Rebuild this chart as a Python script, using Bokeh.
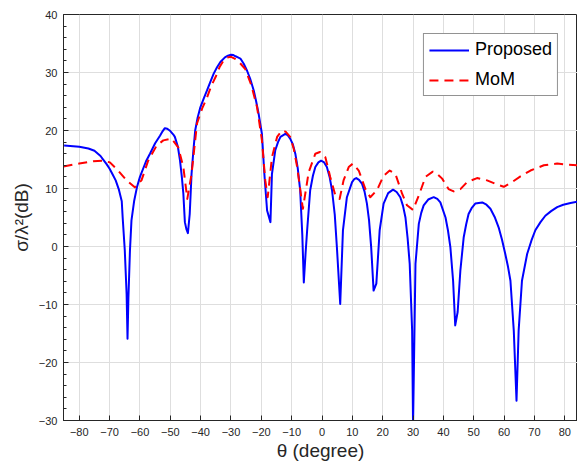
from bokeh.plotting import figure
from bokeh.models import Range1d, FixedTicker, Legend, LegendItem
from bokeh.embed import file_html
from bokeh.resources import INLINE

# Proposed method (theta in degrees, RCS in dB)
theta_proposed = [-85, -82, -80, -77, -75, -73, -72, -71, -70, -69, -68, -67, -66, -65.7, -65,
                  -64.4, -64.1, -63.8, -63.3, -62.8, -61.9, -61, -60, -58, -56.7, -55, -53.4,
                  -52.5, -51.8, -51, -50, -49, -48.5, -47.5, -46.8, -46.2, -45.7, -45.2, -44.7,
                  -44.2, -43.6, -43.0, -42.4, -41.8, -41.0, -40.1, -39.0, -37.9, -36.8, -35.7,
                  -34.6, -33.5, -32, -31, -30, -29.2, -28.5, -27.7, -26.9, -25.8, -24.7, -23.6,
                  -22.5, -21.7, -20.9, -19.8, -19.0, -18.1, -17.0, -16.5, -15.4, -14.5, -13.7,
                  -12.1, -11.3, -10.5, -9.6, -8.8, -8.0, -7.2, -6.5, -6.0, -5.4, -4.9, -3.9, -3.0,
                  -2.2, -1.2, -0.3, 0.7, 1.6, 2.5, 3.3, 4.2,
                  4.9, 6.0, 6.9, 8.2, 9.9, 10.6, 11.3, 12.2, 13.2, 14.0, 14.8, 15.5, 16.2, 17.0,
                  17.9, 19.0, 20.3, 21.8, 23.4, 24.6, 25.8, 26.7, 27.5, 28.2, 28.9, 29.7, 30.0,
                  30.8, 31.9, 32.7, 33.5, 35.0, 36.8, 38.0, 39.0, 40.7, 41.5,
                  42.3, 43.2, 43.9, 44.7, 45.6, 46.7, 47.5, 48.3, 49.3, 50.5, 52.8, 54.2, 55.5,
                  56.9, 58.2, 59.3, 60.4, 61.3, 62.1, 63.2, 64.1, 64.8, 65.9, 67.6, 69.0, 70.3,
                  72.0, 73.6, 75.5, 77.5, 79.5, 81.9, 85]
rcs_proposed = [17.4, 17.3, 17.2, 16.9, 16.5, 15.6, 14.9, 14.2, 13.4, 12.4, 11.4, 9.9, 7.8, 5.0, -0.7,
                -8.2, -15.9, -8.7, -0.7, 4.5, 7.9, 10.2, 12.0, 14.7, 16.0, 17.8, 19.1,
                19.9, 20.4, 20.3, 19.9, 19.3, 18.9, 17.2, 14.8, 12.0, 9.1, 4.2, 3.0,
                2.3, 5.6, 12.5, 16.5, 20.0, 22.2, 24.0, 25.5, 26.9, 28.4, 29.8,
                30.9, 31.8, 32.6, 32.9, 33.05, 33.0, 32.8, 32.6, 32.4, 31.5, 30.3, 28.8,
                26.9, 25.0, 22.9, 19.4, 12.5, 6.2, 4.2, 12.5, 16.6, 18.0, 18.9,
                19.4, 19.2, 18.6, 17.6, 16.0, 13.5, 9.7, 2.0, -6.2, -1.0, 2.8, 9.7, 12.2,
                13.7, 14.5, 14.8, 14.5, 13.7, 12.0, 9.7, 5.5,
                -0.1, -9.9, 2.8, 8.5, 11.1, 11.6, 11.8, 11.5, 10.8, 9.5, 7.4, 4.5, -0.1, -7.6,
                -6.4, 2.8, 7.4, 9.2, 9.8, 9.4, 8.5, 7.0, 5.0, 1.5, -3.0, -14.5, -31.0,
                -3.0, 3.9, 5.8, 7.1, 8.1, 8.5, 8.2, 7.6, 5.0, 2.8,
                -0.1, -5.9, -13.6, -11.3, -4.1, 1.6, 3.8, 5.6, 6.6, 7.4, 7.6, 7.2, 6.5,
                5.1, 3.3, 1.2, -1.3, -3.5, -5.9, -14.5, -26.6, -14.5, -5.9, -1.3, 1.0, 2.8,
                4.2, 5.3, 6.1, 6.8, 7.2, 7.5, 7.8]

# Method of moments reference
theta_mom = [-85.2, -80, -75.4, -72.1, -69.9, -67.2, -64.4, -61.7, -59.5, -57.3, -54.5, -52.3,
             -49.6, -47.4, -45.7, -44.4, -43.0, -41.2, -39.5, -37.9, -36.5, -35, -33.7, -32.4,
             -31.2, -30, -28.8, -27.5, -25.3, -23.3, -21.4, -19.8, -18.7, -17.9, -16.5, -14.8,
             -13.2, -12.0, -10.5, -9.3, -8.2, -6.3, -4.4, -2.2,
             -0.7, 1.1, 2.7, 4.4, 5.8, 7.1, 8.8, 10.2, 12.1, 14.3, 15.9, 18.1, 20.3, 22.3, 24.2,
             26.4, 28.0, 30.0, 31.9, 34.1, 36.5, 37.4, 39.6, 41.7, 43.4, 45.6, 47.8, 51.1, 54.4,
             57.7, 59.9, 62.6, 65.4, 68.7, 73.1, 77.5, 81.3, 85]
rcs_mom = [13.8, 14.3, 14.7, 14.8, 14.5, 13.1, 11.4, 10.2, 11.4, 14.8, 17.4, 18.3,
           18.6, 17.1, 13.7, 8.2, 12.5, 21.2, 23.8, 25.7, 27.7, 29.3, 31.0, 32.1,
           32.6, 32.7, 32.4, 31.9, 30.6, 27.8, 24.0, 18.3, 11.4, 8.5, 15.4, 18.9,
           20.0, 19.8, 18.9, 16.8, 13.7, 6.5, 12.8, 16.0,
           16.3, 15.4, 12.0, 8.8, 8.2, 11.4, 13.7, 14.3, 13.1, 9.9, 8.5, 9.7, 12.2, 13.1, 12.5,
           9.1, 7.1, 6.3, 8.8, 12.0, 12.9, 12.8, 11.7, 9.9, 9.5, 9.9, 11.1, 11.8, 11.4,
           10.7, 10.3, 11.1, 12.1, 13.1, 14.0, 14.3, 14.1, 14.0]

x_ticks = [-80, -70, -60, -50, -40, -30, -20, -10, 0, 10, 20, 30, 40, 50, 60, 70, 80]
y_ticks = [-30, -20, -10, 0, 10, 20, 30, 40]
y_minor = [v for v in range(-30, 41, 2) if v % 10 != 0]

FONT = "Liberation Sans"
DARK = "#262626"

p = figure(width=577, height=463, output_backend="svg", toolbar_location=None,
           x_range=Range1d(-85.2, 84.2), y_range=Range1d(-30, 40),
           min_border_left=63, min_border_right=0, min_border_top=14, min_border_bottom=43)

p.outline_line_color = DARK
p.outline_line_width = 1
p.background_fill_color = "white"
p.border_fill_color = "white"

l1 = p.line(theta_proposed, rcs_proposed, line_color="#0000ff", line_width=2,
            line_join="round")
l2 = p.line(theta_mom, rcs_mom, line_color="#ff0000", line_width=2, line_dash="9 6",
            line_join="round")

p.xaxis.ticker = FixedTicker(ticks=x_ticks)
p.yaxis.ticker = FixedTicker(ticks=y_ticks, minor_ticks=y_minor)
p.xgrid.ticker = FixedTicker(ticks=x_ticks)
p.ygrid.ticker = FixedTicker(ticks=y_ticks)
p.grid.grid_line_color = "#dedede"
p.grid.grid_line_width = 1

for ax in (p.xaxis[0], p.yaxis[0]):
    ax.axis_line_color = DARK
    ax.axis_line_width = 1
    ax.major_tick_line_color = DARK
    ax.major_tick_in = 5
    ax.major_tick_out = 0
    ax.minor_tick_in = 3
    ax.minor_tick_out = 0
    ax.minor_tick_line_color = DARK
    ax.major_label_text_font = FONT
    ax.major_label_text_font_size = "11px"
    ax.major_label_text_color = DARK
    ax.axis_label_text_font = FONT
    ax.axis_label_text_font_size = "19px"
    ax.axis_label_text_font_style = "normal"
    ax.axis_label_text_color = DARK

p.xaxis.minor_tick_line_color = None
p.xaxis.major_label_standoff = 7
p.xaxis.axis_label_standoff = 1
p.yaxis.major_label_standoff = 6
p.yaxis.axis_label_standoff = 4
p.xaxis.axis_label = "θ (degree)"
p.yaxis.axis_label = "σ/λ²(dB)"

legend = Legend(items=[LegendItem(label="Proposed", renderers=[l1]),
                       LegendItem(label="MoM", renderers=[l2])],
                location="top_right")
legend.label_text_font = FONT
legend.label_text_font_size = "18px"
legend.label_text_color = "#000000"
legend.glyph_width = 40
legend.glyph_height = 20
legend.label_height = 20
legend.label_standoff = 6
legend.padding = 5
legend.spacing = 9
legend.margin = 19
legend.border_line_color = DARK
legend.border_line_width = 1
legend.background_fill_color = "white"
legend.background_fill_alpha = 1
p.add_layout(legend)

open("out.html", "w").write(file_html(p, INLINE))
